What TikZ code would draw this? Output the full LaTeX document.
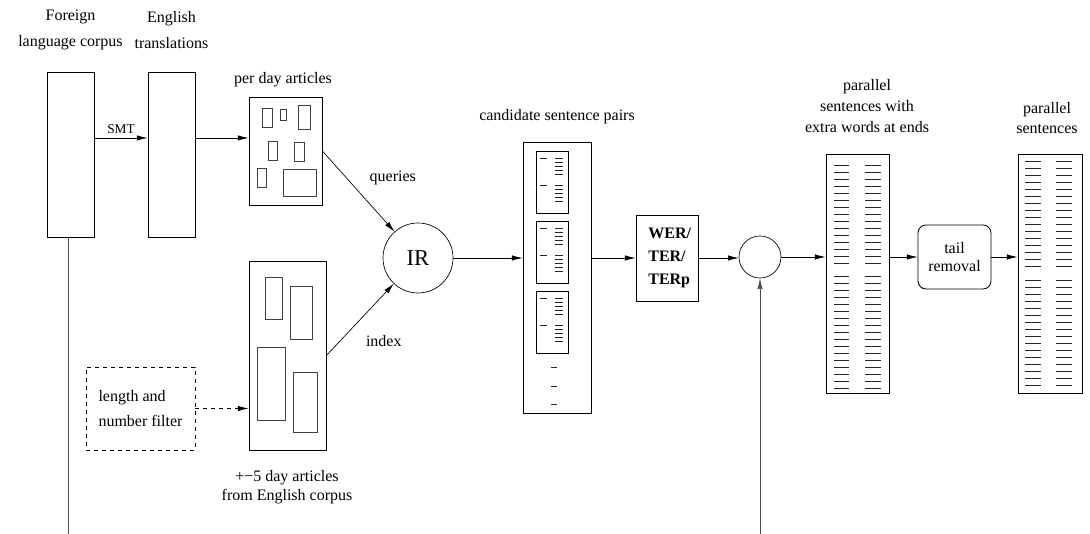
\documentclass[tikz,border=0pt]{standalone}
\usepackage{fontspec}
\setmainfont{Liberation Serif}
\usetikzlibrary{arrows.meta}
\usetikzlibrary{positioning}
\tikzset{
    >={Latex[width=4pt,length=8pt]},
    boxsize/.style 2 args = {minimum width=#1*0.75pt, minimum height=#2*0.75pt},
    base/.style =   {
                        rectangle, draw=black, line width=0.65pt, inner sep=0pt,
                        font=\fontsize{12}{14.5}\selectfont
                    },
    corpus/.style = {base},
    articles/.style = {base},
    sentences/.style = {base},
    metric/.style = {base, align=left, font=\fontsize{12}{17.5}\selectfont\bfseries},
    filter_box/.style = {base, dashed, line width=0.5pt, align=left, font=\fontsize{12}{19}\selectfont},
    tail_box/.style = {base, rounded corners=6pt, align=center, font=\fontsize{12}{13}\selectfont},
    joint/.style = {circle, draw=black, line width=0.5pt, inner sep=0pt},
    caption/.style = {align=center, inner sep=0pt, font=\fontsize{12}{15.5}\selectfont},
    conn/.style = {->, line width=0.5pt},
    doc/.style = {line width=0.6pt, black!75},
    tick/.style = {line width=0.6pt, black!85}
}

\begin{document}
\begin{tikzpicture}[x=0.75pt, y=-0.75pt]
    \useasboundingbox (0,0) rectangle (1090,534);

    % boxes
    \node (foreign_corpus) [corpus, boxsize={47}{165}] at (70.5,154.5) {};
    \node (english_trans)  [corpus, boxsize={47}{165}] at (171.5,154.5) {};
    \node (per_day)        [articles, boxsize={73}{108}] at (285.5,151) {};
    \node (english_corpus) [articles, boxsize={77}{189}] at (287.5,355.5) {};
    \node (filter)         [filter_box, boxsize={109}{83}] at (140.5,408.5) {length and\\number filter};
    \node (ir)             [joint, minimum size=52.5pt, font=\fontsize{17}{17}\selectfont] at (418,258) {IR};
    \node (candidates)     [sentences, boxsize={68}{271}] at (557,277.5) {};
    \node (wer)            [metric, boxsize={62}{86}] at (667,258) {\hspace*{4pt}WER/\\\hspace*{4pt}TER/\\\hspace*{4pt}TERp};
    \node (merge)          [joint, minimum size=31.5pt] at (760,257) {};
    \node (par_extra)      [sentences, boxsize={63}{239}] at (857.5,273.5) {};
    \node (tail)           [tail_box, boxsize={73}{64}] at (954.5,257) {tail\\removal};
    \node (par_sent)       [sentences, boxsize={64}{239}] at (1050,273.5) {};

    % captions
    \node (foreign_lbl)   [caption, font=\fontsize{12}{19.5}\selectfont] at (70.5,30) {Foreign\\language corpus};
    \node (trans_lbl)     [caption, font=\fontsize{12}{19.5}\selectfont] at (171.5,30) {English\\translations};
    \node (per_day_lbl)   [caption] at (283,80) {per day articles};
    \node (english_lbl)   [caption, font=\fontsize{12}{14.5}\selectfont] at (287,487) {+−5 day articles\\from English corpus};
    \node (cand_lbl)      [caption] at (557,117) {candidate sentence pairs};
    \node (par_extra_lbl) [caption] at (867,106) {parallel\\sentences with\\extra words at ends};
    \node (par_sent_lbl)  [caption, font=\fontsize{12}{15}\selectfont] at (1047,118) {parallel\\sentences};

    % article contents
    \foreach \xa/\ya/\xb/\yb in {262/108/272/127, 280/109/286/120, 298/105/310/129, 268/141/277/160,
                                 294/142/304/161, 257/168/266/187, 283/169/316/196,
                                 265/277/282/319, 290/286/312/339, 257/347/285/420, 293/372/317/432}
        \draw[doc] (\xa,\ya) rectangle (\xb,\yb);

    % candidate pairs
    \foreach \top in {151,221,291} {
        \draw[line width=0.6pt] (536,\top) rectangle (568,\top+62);
        \foreach \dy in {7,34} {
            \draw[tick] (540,\top+\dy) -- (547,\top+\dy);
            \foreach \k in {0,...,4}
                \draw[tick] (555,\top+\dy+4*\k) -- (563,\top+\dy+4*\k);
        }
    }
    \foreach \y in {367,386,404}
        \draw[tick] (551,\y) -- (557,\y);

    % sentence lines
    \foreach \k in {0,...,14} {
        \draw[tick] (834,165+7*\k) -- (849,165+7*\k);
        \draw[tick] (865,165+7*\k) -- (881,165+7*\k);
    }
    \foreach \k in {0,...,16} {
        \draw[tick] (834,276+7*\k) -- (849,276+7*\k);
        \draw[tick] (865,276+7*\k) -- (881,276+7*\k);
    }
    \foreach \k in {0,...,15} {
        \draw[tick] (1025,161+7*\k) -- (1041,161+7*\k);
        \draw[tick] (1056,161+7*\k) -- (1072,161+7*\k);
        \draw[tick] (1025,280+7*\k) -- (1041,280+7*\k);
        \draw[tick] (1056,280+7*\k) -- (1072,280+7*\k);
    }

    % connectors
    \draw[conn] ([yshift=12.4pt]foreign_corpus.east) -- node (smt_lbl) [above, font=\fontsize{10}{12}\selectfont] {SMT} ([yshift=12.4pt]english_trans.west);
    \draw[conn] ([yshift=12.4pt]english_trans.east) -- ([yshift=12.4pt]english_trans.east -| per_day.west);
    \draw[conn] (per_day.east) -- node (queries_lbl) [pos=0.33, anchor=west, xshift=14pt, font=\fontsize{12}{14}\selectfont] {queries} (ir);
    \draw[conn] (english_corpus.east) -- node (index_lbl) [pos=0.2, anchor=west, xshift=16pt, font=\fontsize{12}{14}\selectfont] {index} (ir);
    \draw[conn, dashed] (filter.east) -- (filter.east -| english_corpus.west);
    \draw[conn] (ir.east) -- (ir.east -| candidates.west);
    \draw[conn] (candidates.east |- wer.west) -- (wer.west);
    \draw[conn] (wer.east) -- (wer.east -| merge.west);
    \draw[conn] (merge.east) -- (merge.east -| par_extra.west);
    \draw[conn] (par_extra.east |- tail.west) -- (tail.west);
    \draw[conn] (tail.east) -- (tail.east -| par_sent.west);

    % feedback lines (cut at the bottom)
    \coordinate (out_end) at (68,534);
    \coordinate (in_start) at (760,534);
    \draw[line width=0.6pt, black!70] (out_end |- foreign_corpus.south) -- (out_end);
    \draw[conn, black!70] (in_start) -- (merge.south);
\end{tikzpicture}
\end{document}
